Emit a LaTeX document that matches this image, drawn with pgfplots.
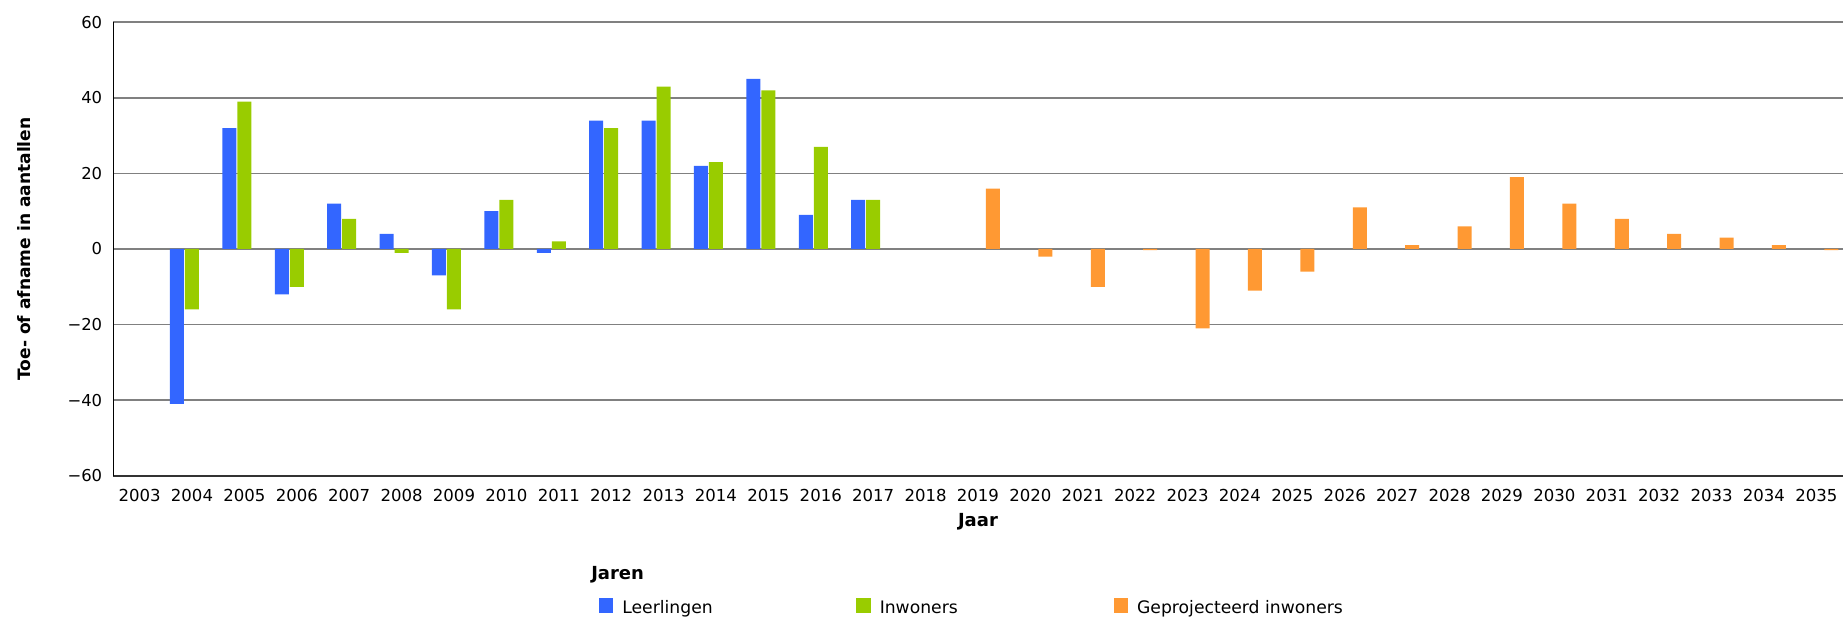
\documentclass[border=0pt]{standalone}
\usepackage{fontspec}
\setmainfont{DejaVu Sans}
\usepackage{pgfplots}
\pgfplotsset{compat=1.18}
\definecolor{cBlue}{HTML}{3366FF}
\definecolor{cGreen}{HTML}{99CC00}
\definecolor{cOrange}{HTML}{FF9933}
\definecolor{cGrid}{HTML}{808080}
\begin{document}
\begin{tikzpicture}
\begin{axis}[
  name=ax, at={(0,0)}, anchor=south west,
  scale only axis, width=1296.9pt, height=340.1pt,
  ybar=0.75pt, bar width=10.5pt,
  enlargelimits=false,
  xmin=-0.5, xmax=32.5, ymin=-60, ymax=60,
  xtick={0,1,2,3,4,5,6,7,8,9,10,11,12,13,14,15,16,17,18,19,20,21,22,23,24,25,26,27,28,29,30,31,32},
  xticklabels={2003,2004,2005,2006,2007,2008,2009,2010,2011,2012,2013,2014,2015,2016,2017,2018,2019,2020,2021,2022,2023,2024,2025,2026,2027,2028,2029,2030,2031,2032,2033,2034,2035},
  ytick={-60,-40,-20,0,20,40,60},
  yticklabels={−60,−40,−20,0,20,40,60},
  ymajorgrids, major grid style={draw=cGrid, line width=1.35pt},
  major tick length=0pt,
  axis x line*=bottom, axis y line*=left,
  x axis line style={-, draw=black!80, line width=1.6pt},
  y axis line style={-, draw=black, line width=0.75pt},
  xticklabel style={font=\fontsize{12.4pt}{14pt}\selectfont, anchor=base, yshift=-19.7pt, inner sep=0pt},
  yticklabel style={font=\fontsize{12.3pt}{14pt}\selectfont, anchor=east, inner sep=0pt, xshift=-8.25pt},
  ylabel={Toe- of afname in aantallen},
  ylabel style={font=\bfseries\fontsize{12.8pt}{15pt}\selectfont, at={(axis description cs:-0.0514,0.5)}, anchor=center},
  xlabel={Jaar},
  xlabel style={font=\bfseries\fontsize{13.5pt}{16pt}\selectfont, at={(axis description cs:0.5,0)}, anchor=center, yshift=-34.7pt},
  legend columns=3,
  legend style={draw=none, fill=none, at={(axis description cs:0.2808,-0.2896)}, anchor=west,
    inner sep=0pt, outer sep=0pt, font=\fontsize{12.9pt}{15pt}\selectfont,
    nodes={inner sep=0pt}, /tikz/every odd column/.append style={column sep=6.75pt}},
  legend image code/.code={\fill[#1] (0pt,-3.6pt) rectangle (10.8pt,7.2pt);},
]
\addplot[fill=cBlue, draw=none] table {
x y
1 -41
2 32
3 -12
4 12
5 4
6 -7
7 10
8 -1
9 34
10 34
11 22
12 45
13 9
14 13
};
\addlegendentry{\makebox[175.5pt][l]{Leerlingen}}
\addplot[fill=cGreen, draw=none] table {
x y
1 -16
2 39
3 -10
4 8
5 -1
6 -16
7 13
8 2
9 32
10 43
11 23
12 42
13 27
14 13
};
\addlegendentry{\makebox[175.5pt][l]{Inwoners}}
\addplot[fill=cOrange, draw=none] table {
x y
16 16
17 -2
18 -10
19 -0.3
20 -21
21 -11
22 -6
23 11
24 1
25 6
26 19
27 12
28 8
29 4
30 3
31 1
32 -0.3
};
\addlegendentry{Geprojecteerd inwoners}
\end{axis}
\node[anchor=west, font=\bfseries\fontsize{13.5pt}{16pt}\selectfont, inner sep=0pt] at (358.2pt,-74.5pt) {Jaren};
\pgfresetboundingbox
\path[use as bounding box] (-85.05pt,-106pt) rectangle (1297.2pt,356.8pt);
\end{tikzpicture}
\end{document}
